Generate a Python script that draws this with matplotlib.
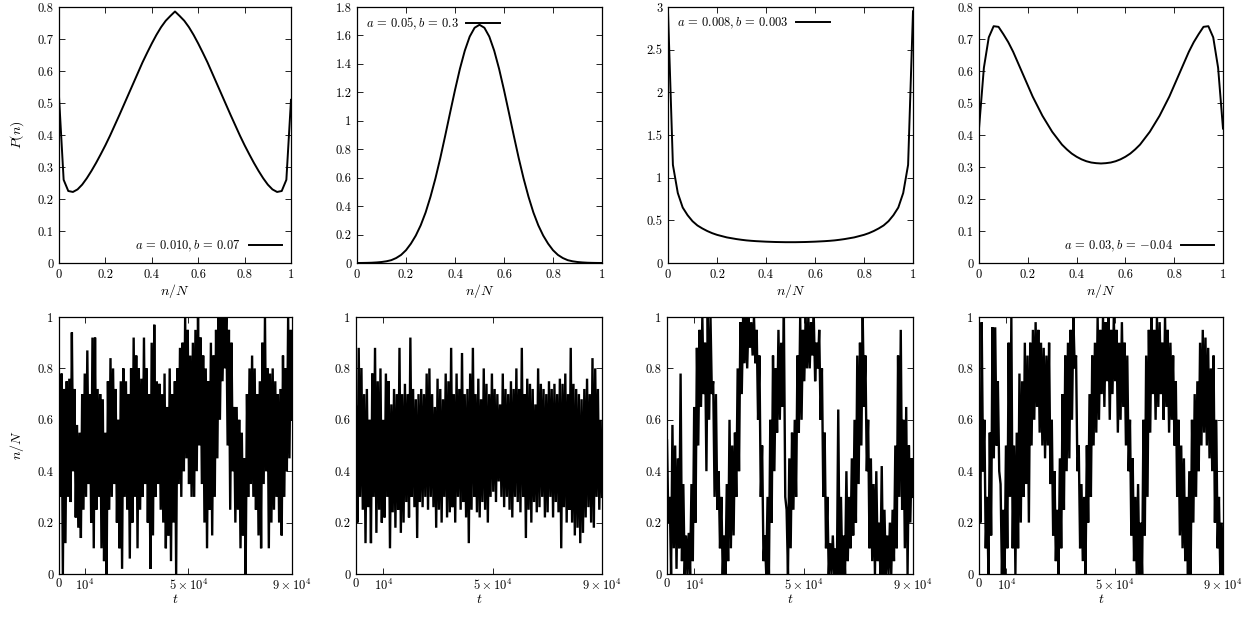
import numpy as np
import matplotlib
matplotlib.use("Agg")
import matplotlib.pyplot as plt

plt.rcParams['font.family'] = 'serif'
plt.rcParams['font.serif'] = ['cmr10']
plt.rcParams['mathtext.fontset'] = 'cm'
plt.rcParams['axes.unicode_minus'] = False
plt.rcParams['font.size'] = 9

# ---------------- data: stationary distributions (n/N step 0.02) ----------------
nN = [round(0.02 * i, 2) for i in range(51)]

P1 = [0.52, 0.26, 0.225, 0.222, 0.230, 0.245, 0.265, 0.288, 0.313, 0.340,
      0.368, 0.398, 0.430, 0.462, 0.495, 0.528, 0.561, 0.594, 0.627, 0.657,
      0.686, 0.713, 0.737, 0.757, 0.772, 0.786, 0.772, 0.757, 0.737, 0.713,
      0.686, 0.657, 0.627, 0.594, 0.561, 0.528, 0.495, 0.462, 0.430, 0.398,
      0.368, 0.340, 0.313, 0.288, 0.265, 0.245, 0.230, 0.222, 0.225, 0.26, 0.51]

P2 = [0.0001, 0.0004, 0.001, 0.002, 0.004, 0.007, 0.012, 0.02, 0.035, 0.057,
      0.09, 0.136, 0.193, 0.265, 0.355, 0.466, 0.594, 0.738, 0.895, 1.057,
      1.216, 1.365, 1.493, 1.592, 1.654, 1.675, 1.654, 1.592, 1.493, 1.365,
      1.216, 1.057, 0.895, 0.738, 0.594, 0.466, 0.355, 0.265, 0.193, 0.136,
      0.09, 0.057, 0.035, 0.02, 0.012, 0.007, 0.004, 0.002, 0.001, 0.0004, 0.0001]

P3 = [2.95, 1.15, 0.82, 0.65, 0.56, 0.49, 0.44, 0.405, 0.375, 0.35,
      0.33, 0.315, 0.30, 0.29, 0.28, 0.272, 0.265, 0.26, 0.256, 0.253,
      0.25, 0.248, 0.246, 0.245, 0.244, 0.244, 0.244, 0.245, 0.246, 0.248,
      0.25, 0.253, 0.256, 0.26, 0.265, 0.272, 0.28, 0.29, 0.30, 0.315,
      0.33, 0.35, 0.375, 0.405, 0.44, 0.49, 0.56, 0.65, 0.82, 1.15, 2.95]

P4 = [0.42, 0.61, 0.705, 0.74, 0.738, 0.715, 0.69, 0.66, 0.625, 0.59,
      0.555, 0.52, 0.49, 0.46, 0.435, 0.41, 0.39, 0.37, 0.355, 0.342,
      0.332, 0.324, 0.318, 0.314, 0.312, 0.311, 0.312, 0.314, 0.318, 0.324,
      0.332, 0.342, 0.355, 0.37, 0.39, 0.41, 0.435, 0.46, 0.49, 0.52,
      0.555, 0.59, 0.625, 0.66, 0.69, 0.715, 0.738, 0.74, 0.705, 0.61, 0.42]

labels_top = [r'$a\,=\,0.010, b\,=\,0.07$', r'$a\,=\,0.05, b\,=\,0.3$',
              r'$a\,=\,0.008, b\,=\,0.003$', r'$a\,=\,0.03, b\,=\,{-0.04}$']

# ---------------- data: time series (upper / lower excursion per 1000 steps) ----------------
hi1 = [0.5, 0.78, 0.72, 0.75, 0.76, 0.94, 0.72, 0.58, 0.55, 0.7,
       0.78, 0.87, 0.7, 0.92, 0.92, 0.72, 0.7, 0.68, 0.55, 0.75,
       0.84, 0.8, 0.72, 0.6, 0.75, 0.8, 0.75, 0.7, 0.8, 0.92,
       0.85, 0.8, 0.76, 0.92, 0.8, 0.7, 0.9, 0.97, 0.75, 0.74,
       0.7, 0.78, 0.65, 0.8, 0.7, 0.75, 0.8, 0.88, 0.9, 1.0,
       0.95, 0.85, 0.9, 0.95, 1.0, 0.92, 0.85, 0.8, 0.75, 0.9,
       0.85, 0.95, 1.0, 1.0, 1.0, 1.0, 0.95, 0.9, 0.65, 0.65,
       0.6, 0.55, 0.45, 0.7, 0.8, 0.85, 0.8, 0.7, 0.75, 0.9,
       1.0, 0.8, 0.78, 0.8, 0.75, 0.7, 0.72, 0.85, 0.8, 1.0, 0.95]
lo1 = [0.3, 0.0, 0.12, 0.3, 0.28, 0.4, 0.22, 0.18, 0.14, 0.25,
       0.3, 0.35, 0.2, 0.1, 0.25, 0.3, 0.1, 0.05, 0.0, 0.25,
       0.3, 0.35, 0.2, 0.1, 0.02, 0.3, 0.25, 0.06, 0.2, 0.3,
       0.1, 0.25, 0.3, 0.35, 0.2, 0.02, 0.15, 0.3, 0.35, 0.25,
       0.2, 0.1, 0.15, 0.05, 0.2, 0.0, 0.35, 0.3, 0.4, 0.45,
       0.35, 0.3, 0.3, 0.4, 0.5, 0.35, 0.2, 0.1, 0.25, 0.15,
       0.3, 0.45, 0.6, 0.75, 0.8, 0.5, 0.25, 0.4, 0.2, 0.25,
       0.1, 0.15, 0.0, 0.3, 0.35, 0.3, 0.25, 0.15, 0.1, 0.35,
       0.4, 0.1, 0.2, 0.25, 0.3, 0.2, 0.15, 0.3, 0.4, 0.45, 0.6]

hi2 = [0.65, 0.88, 0.8, 0.7, 0.72, 0.6, 0.78, 0.88, 0.75, 0.8,
       0.6, 0.78, 0.75, 0.66, 0.72, 0.7, 0.88, 0.7, 0.74, 0.7,
       0.92, 0.72, 0.68, 0.7, 0.72, 0.7, 0.78, 0.8, 0.7, 0.65,
       0.76, 0.72, 0.68, 0.78, 0.75, 0.88, 0.7, 0.78, 0.72, 0.86,
       0.7, 0.72, 0.78, 0.88, 0.7, 0.76, 0.68, 0.8, 0.74, 0.7,
       0.78, 0.72, 0.7, 0.66, 0.78, 0.72, 0.7, 0.75, 0.72, 0.8,
       0.72, 0.88, 0.7, 0.76, 0.74, 0.72, 0.66, 0.8, 0.74, 0.72,
       0.7, 0.75, 0.72, 0.74, 0.7, 0.76, 0.74, 0.78, 0.7, 0.88,
       0.74, 0.72, 0.7, 0.68, 0.72, 0.76, 0.7, 0.84, 0.8, 0.72, 0.6]
lo2 = [0.2, 0.3, 0.25, 0.12, 0.26, 0.12, 0.3, 0.16, 0.25, 0.2,
       0.22, 0.3, 0.1, 0.24, 0.18, 0.25, 0.16, 0.2, 0.28, 0.22,
       0.3, 0.26, 0.14, 0.28, 0.26, 0.3, 0.25, 0.3, 0.26, 0.18,
       0.25, 0.2, 0.3, 0.22, 0.24, 0.26, 0.2, 0.3, 0.25, 0.28,
       0.22, 0.12, 0.25, 0.3, 0.24, 0.22, 0.28, 0.25, 0.2, 0.3,
       0.32, 0.28, 0.36, 0.3, 0.26, 0.3, 0.25, 0.22, 0.3, 0.28,
       0.24, 0.3, 0.14, 0.25, 0.2, 0.28, 0.24, 0.26, 0.3, 0.22,
       0.24, 0.3, 0.22, 0.28, 0.24, 0.1, 0.26, 0.2, 0.25, 0.2,
       0.15, 0.18, 0.12, 0.16, 0.22, 0.26, 0.2, 0.18, 0.3, 0.25, 0.3]

hi3 = [0.52, 0.3, 0.58, 0.5, 0.45, 0.78, 0.35, 0.15, 0.16, 0.35,
       0.65, 0.88, 0.95, 1.0, 0.9, 1.0, 1.0, 0.75, 0.7, 0.4,
       0.3, 0.15, 0.35, 0.6, 0.5, 0.55, 0.8, 0.98, 1.0, 1.0,
       1.0, 0.98, 1.0, 0.95, 0.85, 0.5, 0.15, 0.3, 0.6, 0.85,
       0.8, 0.95, 0.9, 1.0, 0.25, 0.45, 0.55, 0.6, 0.85, 1.0,
       0.95, 1.0, 1.0, 0.98, 1.0, 0.9, 0.95, 0.8, 0.55, 0.3,
       0.12, 0.15, 0.1, 0.64, 0.3, 0.15, 0.4, 0.3, 0.45, 0.6,
       0.85, 0.9, 1.0, 0.85, 0.6, 0.45, 0.35, 0.4, 0.2, 0.42,
       0.25, 0.15, 0.2, 0.25, 0.5, 0.85, 0.95, 0.6, 0.65, 0.5, 0.45]
lo3 = [0.2, 0.0, 0.1, 0.02, 0.1, 0.05, 0.0, 0.0, 0.0, 0.05,
       0.2, 0.5, 0.65, 0.7, 0.4, 0.6, 0.7, 0.3, 0.25, 0.1,
       0.0, 0.0, 0.05, 0.1, 0.15, 0.3, 0.4, 0.7, 0.82, 0.8,
       0.88, 0.85, 0.82, 0.6, 0.3, 0.05, 0.0, 0.0, 0.2, 0.4,
       0.55, 0.6, 0.65, 0.3, 0.0, 0.1, 0.25, 0.3, 0.55, 0.6,
       0.75, 0.8, 0.8, 0.85, 0.75, 0.8, 0.6, 0.3, 0.1, 0.0,
       0.0, 0.0, 0.0, 0.0, 0.0, 0.0, 0.05, 0.1, 0.15, 0.2,
       0.35, 0.5, 0.65, 0.4, 0.1, 0.05, 0.0, 0.05, 0.0, 0.0,
       0.0, 0.0, 0.0, 0.05, 0.1, 0.3, 0.25, 0.1, 0.0, 0.2, 0.3]

hi4 = [0.6, 0.98, 0.6, 0.3, 0.55, 0.96, 0.96, 0.75, 0.35, 0.25,
       0.5, 0.9, 1.0, 0.5, 0.55, 0.78, 0.75, 0.9, 0.85, 0.9,
       0.95, 0.98, 0.95, 0.9, 0.88, 0.85, 0.9, 0.6, 0.4, 0.25,
       0.45, 0.7, 0.85, 0.9, 0.95, 1.0, 0.85, 0.5, 0.35, 0.3,
       0.5, 0.7, 0.85, 0.9, 1.0, 0.95, 1.0, 0.98, 1.0, 0.95,
       1.0, 0.95, 0.9, 0.98, 0.9, 0.85, 0.6, 0.45, 0.3, 0.35,
       0.2, 0.6, 0.85, 0.95, 1.0, 0.95, 1.0, 0.98, 0.9, 1.0,
       0.95, 0.9, 0.85, 0.75, 0.6, 0.5, 0.45, 0.3, 0.4, 0.6,
       0.7, 0.75, 0.9, 0.95, 0.92, 0.88, 0.8, 0.85, 0.6, 0.3, 0.2]
lo4 = [0.2, 0.4, 0.1, 0.0, 0.15, 0.45, 0.5, 0.4, 0.0, 0.0,
       0.1, 0.3, 0.1, 0.0, 0.1, 0.2, 0.3, 0.35, 0.2, 0.5,
       0.6, 0.65, 0.55, 0.5, 0.45, 0.5, 0.35, 0.15, 0.05, 0.0,
       0.1, 0.25, 0.4, 0.45, 0.6, 0.8, 0.4, 0.1, 0.05, 0.0,
       0.2, 0.3, 0.5, 0.55, 0.6, 0.7, 0.65, 0.75, 0.6, 0.7,
       0.75, 0.55, 0.6, 0.65, 0.5, 0.4, 0.15, 0.05, 0.0, 0.0,
       0.0, 0.15, 0.3, 0.55, 0.7, 0.6, 0.65, 0.7, 0.6, 0.65,
       0.55, 0.6, 0.5, 0.3, 0.15, 0.1, 0.05, 0.0, 0.0, 0.2,
       0.3, 0.4, 0.5, 0.55, 0.5, 0.45, 0.4, 0.2, 0.1, 0.0, 0.0]

t_max = 90000

# ---------------- figure ----------------
W, H = 1257, 617
fig = plt.figure(figsize=(W / 100, H / 100), dpi=100)


def px_axes(x0, y0, x1, y1):
    return fig.add_axes([x0 / W, 1 - y1 / H, (x1 - x0) / W, (y1 - y0) / H])


def style(ax, pad=4):
    ax.tick_params(direction='in', top=True, right=True, length=4, width=0.6,
                   labelsize=9, pad=pad)
    for s in ax.spines.values():
        s.set_linewidth(0.9)


top_x = [(59, 291), (357, 602), (668, 913), (979, 1223)]
bot_x = [(59, 292), (356, 602), (667, 913), (979, 1223)]
top_P = [P1, P2, P3, P4]
top_ylim = [0.8, 1.8, 3.0, 0.8]
top_yticks = [[0, 0.1, 0.2, 0.3, 0.4, 0.5, 0.6, 0.7, 0.8],
              [0, 0.2, 0.4, 0.6, 0.8, 1, 1.2, 1.4, 1.6, 1.8],
              [0, 0.5, 1, 1.5, 2, 2.5, 3],
              [0, 0.1, 0.2, 0.3, 0.4, 0.5, 0.6, 0.7, 0.8]]
leg_loc = ['lower right', 'upper left', 'upper left', 'lower right']
xt = [0, 0.2, 0.4, 0.6, 0.8, 1]

for i in range(4):
    ax = px_axes(top_x[i][0], 7, top_x[i][1], 263)
    ax.plot(nN, top_P[i], color='black', lw=1.4, label=labels_top[i])
    ax.set_xlim(0, 1)
    ax.set_ylim(0, top_ylim[i])
    ax.set_xticks(xt)
    ax.set_xticklabels(['%g' % v for v in xt])
    ax.set_yticks(top_yticks[i])
    ax.set_yticklabels(['%g' % v for v in top_yticks[i]])
    ax.set_xlabel(r'$n/N$', fontsize=10, labelpad=1)
    style(ax)
    ax.legend(loc=leg_loc[i], frameon=False, markerfirst=False, fontsize=9,
              handlelength=2.7, handletextpad=0.6, borderaxespad=0.3)
    if i == 0:
        ax.set_ylabel(r'$P(n)$', fontsize=10, labelpad=8)

series_hi = [hi1, hi2, hi3, hi4]
series_lo = [lo1, lo2, lo3, lo4]
yt = [0, 0.2, 0.4, 0.6, 0.8, 1]
for i in range(4):
    ax = px_axes(bot_x[i][0], 317, bot_x[i][1], 574)
    y = np.column_stack([series_hi[i], series_lo[i]]).ravel()
    t = np.linspace(0, t_max, len(y))
    ax.plot(t, y, color='black', lw=1.7, solid_joinstyle='miter')
    ax.set_xlim(0, t_max)
    ax.set_ylim(0, 1)
    ax.set_xticks([0, 10000, 50000, 90000])
    ax.set_xticklabels(['0', r'$10^4$', r'$5\times10^4$', r'$9\times10^4$'])
    ax.set_yticks(yt)
    ax.set_yticklabels(['%g' % v for v in yt])
    ax.set_xlabel(r'$t$', fontsize=10, labelpad=0)
    style(ax)
    ax.tick_params(axis='x', pad=3)
    if i == 0:
        ax.set_ylabel(r'$n/N$', fontsize=10, labelpad=8)

fig.savefig('out.png', dpi=100)
